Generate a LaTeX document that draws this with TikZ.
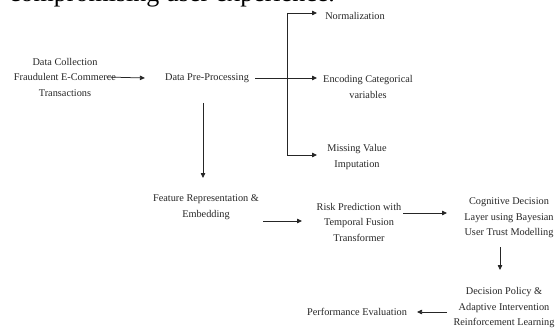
\documentclass[tikz,border=0pt]{standalone}
\usepackage{fontspec}
\setmainfont{Liberation Serif}
\usetikzlibrary{arrows.meta,calc}
\begin{document}
\begin{tikzpicture}[x=1pt,y=-1pt,
  lbl/.style={align=center,inner sep=0pt,font=\fontsize{10.3}{15.5}\selectfont,text=black!85},
  arr/.style={draw=black!85,line width=0.75pt,-{Triangle[length=5pt,width=4.5pt]}},
  ln/.style={draw=black!85,line width=0.75pt}]
\useasboundingbox (0,0) rectangle (556,331);
\begin{scope}
\clip (0,0) rectangle (556,331);
\node[anchor=base west,inner sep=0pt,font=\fontsize{26}{30}\selectfont] (top) at (9,1.5) {compromising user experience.};
\end{scope}
% nodes
\node[lbl] (dc) at (65,77) {Data Collection\\Fraudulent E-Commerce\\Transactions};
\node[lbl] (dp) at (207,78) {Data Pre-Processing};
\node[lbl] (norm) at (355,16) {Normalization};
\node[lbl] (enc) at (368,87) {Encoding Categorical\\variables};
\node[lbl] (miss) at (357,157) {Missing Value\\Imputation};
\node[lbl] (feat) at (206,207) {Feature Representation \&\\Embedding};
\node[lbl] (risk) at (359,222) {Risk Prediction with\\Temporal Fusion\\Transformer};
\node[lbl] (cog) at (509,218) {Cognitive Decision\\Layer using Bayesian\\User Trust Modelling};
\node[lbl] (dec) at (504,308) {Decision Policy \&\\Adaptive Intervention\\Reinforcement Learning};
\node[lbl] (perf) at (357,312) {Performance Evaluation};
% bus and connector end points
\coordinate (bt) at (287,13);
\coordinate (bm) at (287,78);
\coordinate (bb) at (287,155);
\coordinate (fr) at (263,221);
\coordinate (rc) at (403,213);
\coordinate (cd) at (500,247);
\coordinate (dpf) at (447,312);
% connectors
\draw[arr] ([xshift=-10pt]dc.east) -- ([xshift=-20pt]dp.west);
\draw[ln] ([xshift=6pt]dp.east) -- (bm);
\draw[ln] (bt) -- (bb);
\draw[arr] (bt) -- (bt -| 317,0);
\draw[arr] (bm) -- (bm -| 317,0);
\draw[arr] (bb) -- (bb -| 317,0);
\draw[arr] (203,103) -- (203,178);
\draw[arr] (fr) -- (fr -| 302,0);
\draw[arr] (rc) -- (rc -| 447,0);
\draw[arr] (cd) -- (cd |- 0,270);
\draw[arr] (dpf) -- (dpf -| 417,0);
\end{tikzpicture}
\end{document}
